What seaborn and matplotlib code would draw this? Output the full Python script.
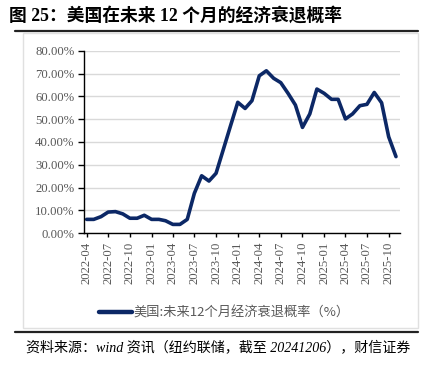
import matplotlib
matplotlib.use('Agg')
import matplotlib.pyplot as plt
import matplotlib.dates as mdates
from matplotlib.lines import Line2D
from matplotlib.patches import Rectangle
from matplotlib.ticker import FuncFormatter, MultipleLocator
import pandas as pd
import seaborn as sns

# 纽约联储：美国未来12个月经济衰退概率（%），月度
start_month = '2022-04-01'
recession_prob = [6.1, 6.1, 7.3, 9.3, 9.5, 8.5, 6.6, 6.6, 7.9, 6.1,
                  6.1, 5.5, 3.9, 3.9, 6.1, 17.5, 25.2, 22.9, 26.3, 36.8,
                  47.0, 57.4, 54.7, 58.1, 69.0, 71.2, 67.9, 66.0, 61.3, 56.2,
                  46.4, 52.3, 63.2, 61.3, 58.7, 58.7, 50.1, 52.3, 55.9, 56.5,
                  61.7, 57.2, 42.3, 33.6]
series_label = '美国:未来12个月经济衰退概率（%）'
title_text = '图 25：美国在未来 12 个月的经济衰退概率'
source_text = '资料来源：wind 资讯（纽约联储，截至 20241206），财信证券'

dates = pd.date_range(start_month, periods=len(recession_prob), freq='MS')
df = pd.DataFrame({'date': dates, 'prob': recession_prob})

sns.set_theme(style='white')
plt.rcParams['font.family'] = ['Liberation Serif', 'Noto Sans CJK SC', 'DejaVu Sans']

W, H = 427, 370
fig = plt.figure(figsize=(W / 100, H / 100), dpi=100)
ax = fig.add_axes([84.3 / W, 1 - 233.3 / H, (400 - 84.3) / W, (233.3 - 50.7) / H])

sns.lineplot(data=df, x='date', y='prob', ax=ax, color='#0c2866',
             linewidth=2.6, label=series_label, legend=False)

ax.set_ylim(0, 80)
ax.set_xlim(pd.Timestamp('2022-03-22'), pd.Timestamp('2025-11-18'))
ax.yaxis.set_major_locator(MultipleLocator(10))
ax.yaxis.set_major_formatter(FuncFormatter(lambda v, p: f'{v:.2f}%'))
ax.xaxis.set_major_locator(mdates.MonthLocator(bymonth=[1, 4, 7, 10]))
ax.xaxis.set_major_formatter(mdates.DateFormatter('%Y-%m'))
ax.set_xlabel('')
ax.set_ylabel('')

ax.grid(axis='y', color='#d9d9d9', linewidth=1)
ax.grid(axis='x', visible=False)
ax.set_axisbelow(True)
for side in ['top', 'right']:
    ax.spines[side].set_visible(False)
for side in ['left', 'bottom']:
    ax.spines[side].set_color('black')
    ax.spines[side].set_linewidth(1)

ax.tick_params(axis='y', which='major', left=True, length=4, width=1,
               color='black', labelsize=9.2, labelcolor='#595959', pad=3)
ax.tick_params(axis='x', which='major', bottom=True, length=3, width=1,
               color='black', labelsize=9.2, labelcolor='#595959', pad=3)
plt.setp(ax.get_xticklabels(), rotation=90)

# 图例
handles = [Line2D([0], [0], color='#0c2866', linewidth=3.2)]
fig.legend(handles, [series_label], loc='center', bbox_to_anchor=(0.525, 1 - 313 / H),
           frameon=False, handlelength=2.5, handletextpad=0.1,
           prop={'family': ['Noto Sans CJK SC', 'DejaVu Sans'], 'size': 9.5},
           labelcolor='#595959')

# 外框与分隔线
fig.add_artist(Rectangle((23 / W, 1 - 328 / H), (418 - 23) / W, (328 - 33) / H,
                         transform=fig.transFigure, fill=False,
                         edgecolor='#e0e0e0', linewidth=1))
fig.add_artist(Line2D([15 / W, 418 / W], [1 - 31 / H] * 2, color='#222222', linewidth=1.6))
fig.add_artist(Line2D([15 / W, 418 / W], [1 - 332 / H] * 2, color='#222222', linewidth=1.6))

fig.text(9 / W, 1 - 16 / H, title_text, fontsize=12.8, fontweight='bold',
         ha='left', va='center', color='black')
fig.text(26 / W, 1 - 348 / H, source_text, fontsize=10.1, style='italic',
         ha='left', va='center', color='black')

fig.savefig('out.png', dpi=100)
